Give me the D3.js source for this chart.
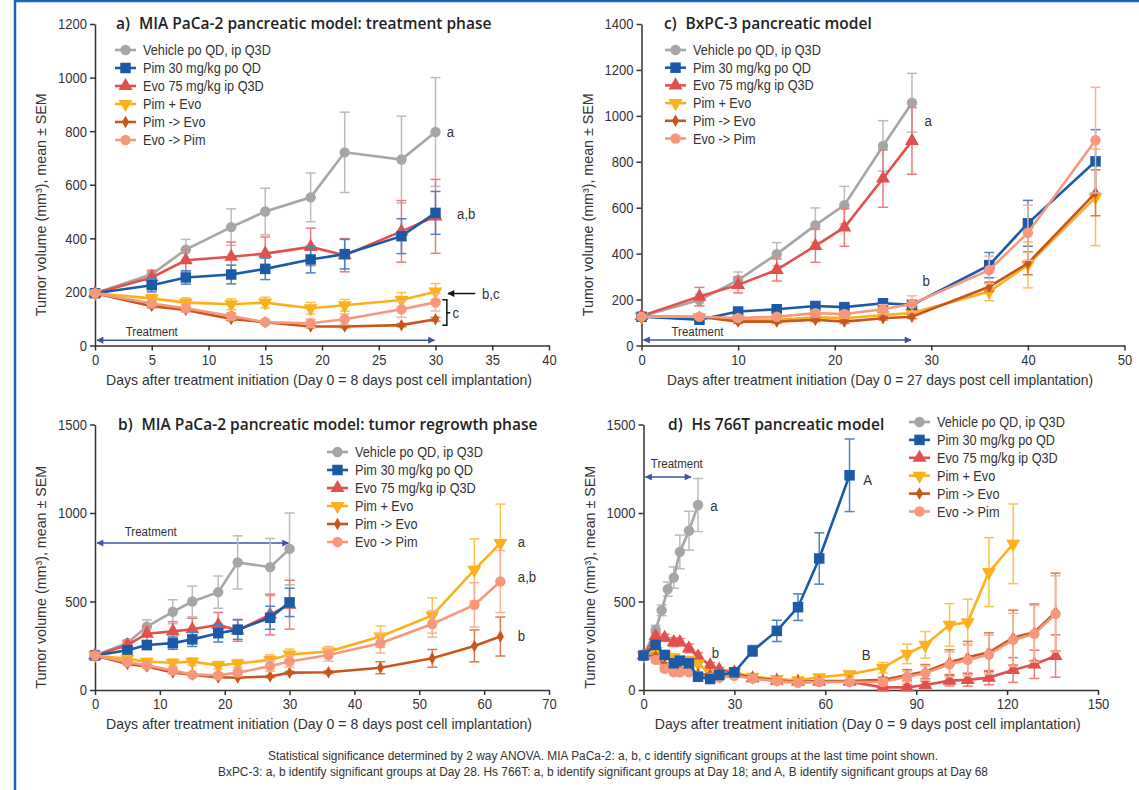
<!DOCTYPE html>
<html>
<head>
<meta charset="utf-8">
<script src="https://cdn.jsdelivr.net/npm/d3@7"></script>
<style>
body { margin: 0; background: #fff; }
text { font-family: "Liberation Sans", sans-serif; fill: #333; }
.title { font-family: "Open Sans", sans-serif; font-weight: 600; fill: #222; }
.axis path, .axis line { stroke: #333; stroke-width: 1.5; }
.axis text { font-size: 15.5px; fill: #333; font-family: "Liberation Sans", sans-serif; }
</style>
</head>
<body>
<svg id="chart" width="1139" height="790"></svg>
<script>
// groups shared by all four panels
const names = ["Vehicle po QD, ip Q3D", "Pim 30 mg/kg po QD", "Evo 75 mg/kg ip Q3D", "Pim + Evo", "Pim -> Evo", "Evo -> Pim"];
const colors = ["#a6a6a6", "#1b5aa7", "#e2504e", "#fbb01d", "#c8561c", "#f7987d"];
const errColors = ["#bcbcbc", "#4f82c3", "#ea7c7a", "#fcc24f", "#d57d4c", "#f8b19d"];
const shapes = ["circle", "square", "up", "down", "diamond", "circle"];

// a) MIA PaCa-2 treatment phase
const aDays = [0, 5, 8, 12, 15, 19, 22, 27, 30];
const aVehicle = [195, 266, 358, 442, 500, 553, 721, 694, 797];
const aVehicleErr = [0, 15, 38, 68, 87, 91, 150, 162, 203];
const aPim = [195, 225, 254, 265, 286, 321, 341, 408, 495];
const aPimErr = [0, 25, 25, 35, 40, 50, 55, 65, 80];
const aEvo = [195, 254, 318, 331, 343, 368, 337, 426, 482];
const aEvoErr = [0, 25, 40, 55, 62, 70, 62, 115, 138];
const aCombo = [195, 176, 160, 154, 160, 139, 150, 170, 201];
const aComboErr = [0, 15, 18, 20, 20, 22, 22, 28, 30];
const aPimEvo = [195, 147, 133, 99, 87, 71, 71, 76, 98];
const aPimEvoErr = [0, 6, 6, 6, 5, 5, 5, 6, 7];
const aEvoPim = [195, 157, 139, 110, 87, 83, 98, 135, 161];
const aEvoPimErr = [0, 10, 15, 12, 8, 15, 20, 30, 32];

// b) MIA PaCa-2 regrowth phase (same first 30 days)
const bDays = [0, 5, 8, 12, 15, 19, 22, 27, 30, 36, 44, 52, 58.5, 62.5];
const bCombo = [195, 176, 160, 154, 160, 139, 150, 170, 201, 217, 302, 421, 679, 830];
const bComboErr = [0, 15, 18, 20, 20, 22, 22, 28, 30, 28, 60, 100, 175, 220];
const bPimEvo = [195, 147, 133, 99, 87, 71, 71, 76, 98, 100, 126, 179, 249, 302];
const bPimEvoErr = [0, 6, 6, 6, 5, 5, 5, 6, 7, 8, 34, 50, 90, 110];
const bEvoPim = [195, 157, 139, 110, 87, 83, 98, 135, 161, 198, 264, 373, 481, 613];
const bEvoPimErr = [0, 10, 15, 12, 8, 15, 20, 30, 32, 35, 55, 75, 125, 175];

// c) BxPC-3
const cDays = [0, 6, 10, 14, 18, 21, 25, 28, 36, 40, 47];
const cVehicle = [127, 198, 285, 398, 524, 611, 869, 1057];
const cVehicleErr = [0, 25, 35, 50, 75, 82, 110, 128];
const cEvo = [129, 213, 264, 329, 434, 514, 727, 891];
const cEvoErr = [0, 40, 35, 48, 72, 82, 125, 145];
const cPim = [125, 112, 148, 158, 172, 167, 184, 177, 350, 532, 802];
const cPimErr = [8, 8, 10, 12, 12, 12, 15, 15, 55, 100, 138];
const cCombo = [125, 123, 112, 112, 123, 119, 133, 141, 235, 351, 645];
const cComboErr = [8, 8, 8, 8, 8, 8, 10, 12, 40, 100, 210];
const cPimEvo = [125, 125, 104, 104, 112, 104, 119, 125, 256, 358, 665];
const cPimEvoErr = [8, 8, 8, 8, 8, 8, 8, 8, 20, 50, 100];
const cEvoPim = [125, 125, 120, 125, 141, 137, 158, 181, 329, 491, 894];
const cEvoPimErr = [8, 10, 10, 10, 12, 12, 20, 35, 60, 120, 230];

// d) Hs 766T
const dVehDays = [0, 4, 6, 8, 10, 12, 15, 18];
const dVehicle = [195, 340, 450, 570, 635, 780, 900, 1045];
const dVehicleErr = [0, 25, 30, 40, 60, 95, 110, 150];
const dDays = [0, 4, 7, 10, 12, 15, 18, 22, 25, 30, 36, 44, 51, 58, 68, 79, 87, 93, 101, 107, 114, 122, 129, 136];
const dPim = [195, 255, 198, 151, 166, 151, 75, 62, 85, 100, 221, 334, 468, 743, 1213];
const dPimErr = [0, 15, 15, 15, 15, 15, 12, 10, 12, 12, 30, 60, 75, 145, 205];
const dEvo = [195, 305, 295, 270, 270, 235, 190, 140, 115, 100, 66, 53, 47, 47, 47, 15, 15, 28, 53, 57, 70, 113, 145, 192];
const dEvoErr = [0, 20, 20, 25, 20, 25, 20, 15, 12, 10, 10, 8, 8, 8, 8, 12, 15, 20, 30, 35, 40, 70, 80, 120];
const dCombo = [195, 220, 195, 185, 165, 170, 150, 95, 80, 100, 75, 62, 55, 72, 89, 126, 204, 255, 368, 383, 666, 826];
const dComboErr = [0, 15, 15, 15, 15, 15, 15, 10, 10, 10, 10, 10, 10, 12, 15, 30, 55, 75, 120, 130, 195, 225];
const dPimEvo = [195, 190, 140, 115, 115, 110, 90, 85, 85, 90, 70, 55, 45, 50, 50, 57, 85, 104, 157, 185, 213, 296, 326, 440];
const dPimEvoErr = [0, 15, 15, 12, 12, 12, 10, 10, 10, 10, 10, 8, 8, 8, 8, 15, 30, 40, 70, 90, 110, 155, 160, 220];
const dEvoPim = [195, 170, 120, 100, 100, 100, 80, 70, 70, 80, 65, 50, 40, 45, 45, 45, 75, 95, 145, 170, 200, 283, 318, 430];
const dEvoPimErr = [0, 15, 15, 12, 12, 12, 10, 10, 10, 10, 10, 8, 8, 8, 8, 15, 30, 40, 70, 90, 110, 150, 160, 215];

const svg = d3.select("#chart");

// the reference uses a condensed face: squeeze the glyphs of a text
function condense(sel, factor) {
  sel.each(function() {
    const w = this.getComputedTextLength();
    d3.select(this).attr("textLength", w * factor).attr("lengthAdjust", "spacingAndGlyphs");
  });
}
function fitTo(sel, len) {
  sel.attr("textLength", len).attr("lengthAdjust", "spacingAndGlyphs");
}

// arrow heads
const defs = svg.append("defs");
function arrowDef(id, color, orient) {
  defs.append("marker")
    .attr("id", id).attr("viewBox", "0 0 10 10").attr("refX", 9).attr("refY", 5)
    .attr("markerWidth", 9).attr("markerHeight", 7).attr("markerUnits", "userSpaceOnUse")
    .attr("orient", orient)
    .append("path").attr("d", "M0,0 L10,5 L0,10 z").attr("fill", color);
}
arrowDef("tr", "#3e54a4", "auto-start-reverse");
arrowDef("blk", "#111", "auto");

// blue frame
svg.append("line").attr("x1", 15).attr("y1", 0).attr("x2", 15).attr("y2", 790)
  .attr("stroke", "#1a63b8").attr("stroke-width", 2.5);
svg.append("line").attr("x1", 15).attr("y1", 1).attr("x2", 1139).attr("y2", 1)
  .attr("stroke", "#1a63b8").attr("stroke-width", 2.5);

function symbolPath(shape) {
  if (shape === "circle") return d3.symbol(d3.symbolCircle, 85)();
  if (shape === "square") return d3.symbol(d3.symbolSquare, 110)();
  if (shape === "diamond") return d3.symbol(d3.symbolDiamond, 45)();
  return d3.symbol(d3.symbolTriangle, 85)();
}

function drawMarker(g, k, cx, cy) {
  g.append("path")
    .attr("d", symbolPath(shapes[k]))
    .attr("transform", "translate(" + cx + "," + cy + ")" + (shapes[k] === "down" ? " rotate(180)" : ""))
    .attr("fill", colors[k]);
}

function drawPanel(p) {
  const x = d3.scaleLinear().domain(p.xDomain).range(p.xRange);
  const y = d3.scaleLinear().domain(p.yDomain).range(p.yRange);
  const g = svg.append("g");

  // axes
  const xa = g.append("g").attr("class", "axis")
    .attr("transform", "translate(0," + p.yRange[0] + ")")
    .call(d3.axisBottom(x).tickValues(p.xTicks).tickFormat(d3.format("d")).tickSize(5).tickSizeOuter(0).tickPadding(3));
  const ya = g.append("g").attr("class", "axis")
    .attr("transform", "translate(" + p.xRange[0] + ",0)")
    .call(d3.axisLeft(y).tickValues(p.yTicks).tickFormat(d3.format("d")).tickSize(5).tickSizeOuter(0).tickPadding(3));
  condense(xa.selectAll("text"), 0.84);
  condense(ya.selectAll("text"), 0.84);

  // title
  const t = g.append("text").attr("class", "title")
    .attr("x", p.titleX).attr("y", p.yRange[1] + 5).attr("font-size", 15.5);
  t.append("tspan").text(p.letter);
  t.append("tspan").attr("dx", 9).text(p.title);

  // axis labels
  g.append("text").attr("x", (p.xRange[0] + p.xRange[1]) / 2 - 3).attr("y", p.yRange[0] + 39)
    .attr("text-anchor", "middle").attr("font-size", 14.5).text(p.xLabel)
    .call(fitTo, 426);
  g.append("text")
    .attr("transform", "translate(" + (p.xRange[0] - 49) + "," + ((p.yRange[0] + p.yRange[1]) / 2 + 20) + ") rotate(-90)")
    .attr("text-anchor", "middle").attr("font-size", 15)
    .text("Tumor volume (mm\u00b3), mean \u00b1 SEM")
    .call(fitTo, 223);

  // treatment arrow
  const tr = p.treatment;
  g.append("line")
    .attr("x1", x(tr.from) + 2).attr("x2", x(tr.to) - 1)
    .attr("y1", y(tr.v)).attr("y2", y(tr.v))
    .attr("stroke", "#3e54a4").attr("stroke-width", 1.5)
    .attr("marker-start", "url(#tr)").attr("marker-end", "url(#tr)");
  g.append("text").attr("x", x(tr.labelDay)).attr("y", y(tr.labelV) + 4)
    .attr("text-anchor", "middle").attr("font-size", 12.5).attr("fill", "#444").text("Treatment")
    .call(fitTo, 52);

  // series
  p.series.forEach(function(s) {
    const k = s.k;
    const pts = s.vals.map(function(v, i) { return { d: s.days[i], v: v, e: s.errs[i] }; });
    const eg = g.append("g").attr("stroke", errColors[k]).attr("stroke-width", 1.5);
    pts.forEach(function(pt) {
      if (pt.e <= 0) return;
      const cx = x(pt.d);
      eg.append("line").attr("x1", cx).attr("x2", cx).attr("y1", y(pt.v - pt.e)).attr("y2", y(pt.v + pt.e));
      eg.append("line").attr("x1", cx - 5).attr("x2", cx + 5).attr("y1", y(pt.v - pt.e)).attr("y2", y(pt.v - pt.e));
      eg.append("line").attr("x1", cx - 5).attr("x2", cx + 5).attr("y1", y(pt.v + pt.e)).attr("y2", y(pt.v + pt.e));
    });
    g.append("path").datum(pts)
      .attr("fill", "none").attr("stroke", colors[k]).attr("stroke-width", 2.6)
      .attr("d", d3.line().x(function(d) { return x(d.d); }).y(function(d) { return y(d.v); }));
    pts.forEach(function(pt) { drawMarker(g, k, x(pt.d), y(pt.v)); });
  });

  // legend
  names.forEach(function(n, k) {
    const ly = p.legend.y + k * p.legend.dy;
    g.append("line").attr("x1", p.legend.x).attr("x2", p.legend.x + 21).attr("y1", ly).attr("y2", ly)
      .attr("stroke", colors[k]).attr("stroke-width", 2.6);
    drawMarker(g, k, p.legend.x + 10.5, ly);
    g.append("text").attr("x", p.legend.x + 28).attr("y", ly + 5).attr("font-size", 15.5).text(n)
      .call(condense, 0.82);
  });

  // significance letters
  p.notes.forEach(function(n) {
    g.append("text").attr("x", x(n.d)).attr("y", y(n.v) + 5).attr("font-size", 15.5).text(n.t)
      .call(condense, 0.85);
  });

  return { g: g, x: x, y: y };
}

const panelA = drawPanel({
  letter: "a)", title: "MIA PaCa-2 pancreatic model: treatment phase", titleX: 116,
  xDomain: [0, 40], xRange: [95, 549], yDomain: [0, 1200], yRange: [345.5, 24],
  xTicks: d3.range(0, 41, 5), yTicks: d3.range(0, 1201, 200),
  xLabel: "Days after treatment initiation (Day 0 = 8 days post cell implantation)",
  treatment: { from: 0, to: 30, v: 20, labelDay: 5, labelV: 51 },
  legend: { x: 115, y: 50, dy: 18 },
  series: [
    { k: 0, days: aDays, vals: aVehicle, errs: aVehicleErr },
    { k: 2, days: aDays, vals: aEvo, errs: aEvoErr },
    { k: 1, days: aDays, vals: aPim, errs: aPimErr },
    { k: 3, days: aDays, vals: aCombo, errs: aComboErr },
    { k: 4, days: aDays, vals: aPimEvo, errs: aPimEvoErr },
    { k: 5, days: aDays, vals: aEvoPim, errs: aEvoPimErr }
  ],
  notes: [{ d: 31, v: 797, t: "a" }, { d: 31.9, v: 489, t: "a,b" }, { d: 34.1, v: 194, t: "b,c" }, { d: 31.5, v: 122, t: "c" }]
});

// arrow and bracket for the combination groups in panel a
panelA.g.append("line")
  .attr("x1", panelA.x(33.5)).attr("x2", panelA.x(31.1))
  .attr("y1", panelA.y(194)).attr("y2", panelA.y(194))
  .attr("stroke", "#111").attr("stroke-width", 1.5).attr("marker-end", "url(#blk)");
panelA.g.append("path")
  .attr("d", "M" + panelA.x(30.6) + "," + panelA.y(171) + "H" + panelA.x(31) + "V" + panelA.y(76) + "H" + panelA.x(30.6)
    + "M" + panelA.x(31) + "," + panelA.y(122) + "H" + panelA.x(31.3))
  .attr("fill", "none").attr("stroke", "#111").attr("stroke-width", 1.5);

drawPanel({
  letter: "b)", title: "MIA PaCa-2 pancreatic model: tumor regrowth phase", titleX: 118,
  xDomain: [0, 70], xRange: [95, 549], yDomain: [0, 1500], yRange: [690, 424.5],
  xTicks: d3.range(0, 71, 10), yTicks: d3.range(0, 1501, 500),
  xLabel: "Days after treatment initiation (Day 0 = 8 days post cell implantation)",
  treatment: { from: 0, to: 30, v: 830, labelDay: 8.6, labelV: 890 },
  legend: { x: 327, y: 452, dy: 18 },
  series: [
    { k: 0, days: aDays, vals: aVehicle, errs: aVehicleErr },
    { k: 2, days: aDays, vals: aEvo, errs: aEvoErr },
    { k: 1, days: aDays, vals: aPim, errs: aPimErr },
    { k: 3, days: bDays, vals: bCombo, errs: bComboErr },
    { k: 4, days: bDays, vals: bPimEvo, errs: bPimEvoErr },
    { k: 5, days: bDays, vals: bEvoPim, errs: bEvoPimErr }
  ],
  notes: [{ d: 65.2, v: 834, t: "a" }, { d: 65.2, v: 641, t: "a,b" }, { d: 65.2, v: 306, t: "b" }]
});

drawPanel({
  letter: "c)", title: "BxPC-3 pancreatic model", titleX: 664,
  xDomain: [0, 50], xRange: [641.5, 1124.5], yDomain: [0, 1400], yRange: [345.5, 24],
  xTicks: d3.range(0, 51, 10), yTicks: d3.range(0, 1401, 200),
  xLabel: "Days after treatment initiation (Day 0 = 27 days post cell implantation)",
  treatment: { from: 0, to: 28, v: 24, labelDay: 5.8, labelV: 60 },
  legend: { x: 665, y: 50, dy: 17.7 },
  series: [
    { k: 0, days: cDays, vals: cVehicle, errs: cVehicleErr },
    { k: 2, days: cDays, vals: cEvo, errs: cEvoErr },
    { k: 3, days: cDays, vals: cCombo, errs: cComboErr },
    { k: 4, days: cDays, vals: cPimEvo, errs: cPimEvoErr },
    { k: 1, days: cDays, vals: cPim, errs: cPimErr },
    { k: 5, days: cDays, vals: cEvoPim, errs: cEvoPimErr }
  ],
  notes: [{ d: 29.3, v: 976, t: "a" }, { d: 29.1, v: 281, t: "b" }]
});

drawPanel({
  letter: "d)", title: "Hs 766T pancreatic model", titleX: 668,
  xDomain: [0, 150], xRange: [643.5, 1098], yDomain: [0, 1500], yRange: [690, 424.5],
  xTicks: d3.range(0, 151, 30), yTicks: d3.range(0, 1501, 500),
  xLabel: "Days after treatment initiation (Day 0 = 9 days post cell implantation)",
  treatment: { from: 0, to: 16, v: 1204, labelDay: 11, labelV: 1277 },
  legend: { x: 909, y: 422, dy: 17.9 },
  series: [
    { k: 0, days: dVehDays, vals: dVehicle, errs: dVehicleErr },
    { k: 2, days: dDays, vals: dEvo, errs: dEvoErr },
    { k: 3, days: dDays, vals: dCombo, errs: dComboErr },
    { k: 4, days: dDays, vals: dPimEvo, errs: dPimEvoErr },
    { k: 5, days: dDays, vals: dEvoPim, errs: dEvoPimErr },
    { k: 1, days: dDays, vals: dPim, errs: dPimErr }
  ],
  notes: [{ d: 22, v: 1041, t: "a" }, { d: 72.5, v: 1188, t: "A" }, { d: 22.5, v: 208, t: "b" }, { d: 72, v: 198, t: "B" }]
});

// footnote
svg.append("text").attr("x", 603).attr("y", 760).attr("text-anchor", "middle").attr("font-size", 12.3)
  .text("Statistical significance determined by 2 way ANOVA. MIA PaCa-2: a, b, c identify significant groups at the last time point shown.")
  .call(fitTo, 670);
svg.append("text").attr("x", 603).attr("y", 776).attr("text-anchor", "middle").attr("font-size", 12.3)
  .text("BxPC-3: a, b identify significant groups at Day 28. Hs 766T: a, b identify significant groups at Day 18; and A, B identify significant groups at Day 68")
  .call(fitTo, 770);
</script>
</body>
</html>
